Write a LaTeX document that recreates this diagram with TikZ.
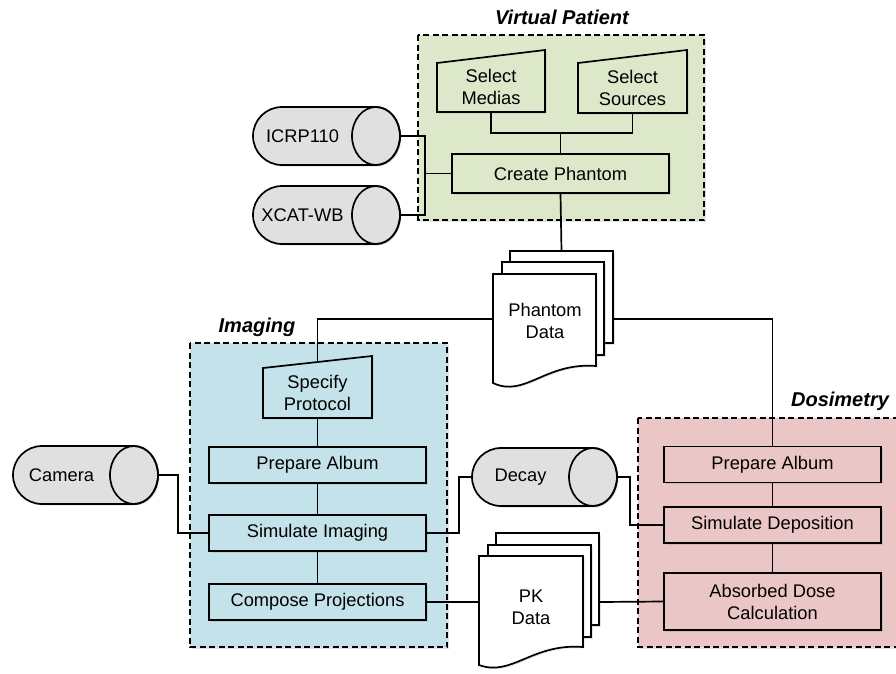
\documentclass[tikz,border=0pt]{standalone}
\usepackage{fontspec}
\setmainfont{Liberation Sans}
\usetikzlibrary{shadows,calc}
\definecolor{vpgreen}{RGB}{221,232,203}
\definecolor{imblue}{RGB}{196,226,233}
\definecolor{dospink}{RGB}{234,198,198}
\definecolor{cylgray}{RGB}{224,224,224}
\newcommand\mycyl[5]{%
  \draw[fill=cylgray, shd] (#3-24,#4-29) -- (#2+29,#4-29) arc[start angle=90,end angle=270,radius=29pt]
     -- (#3-24,#4+29) arc[start angle=-90,end angle=90,x radius=24pt,y radius=29pt] -- cycle;
  \draw (#3-24,#4) ellipse [x radius=24pt,y radius=29pt];
  \node[lbl] (#1) at ({(#2+#3)/2-24},#4) {#5};
  \coordinate (#1-r) at (#3,#4);
  \coordinate (#1-l) at (#2,#4);
}
\begin{document}
\begin{tikzpicture}[x=1pt,y=-1pt, line width=1.7pt,
  shd/.style={drop shadow={shadow xshift=1.5pt,shadow yshift=-1.5pt,opacity=0.22}},
  group/.style={draw, dash pattern=on 6pt off 3.5pt, shd},
  lbl/.style={font=\fontsize{18.3}{22}\selectfont, align=center, inner sep=0pt},
  proc/.style={lbl, draw, shd, minimum width=217pt, minimum height=36pt},
  trap/.style={lbl, minimum width=108pt, minimum height=50pt},
  title/.style={font=\fontsize{20}{24}\selectfont\bfseries\itshape, inner sep=0pt}]
\useasboundingbox (0,0) rectangle (896,673);
\clip (0,0) rectangle (896,673);

% groups
\draw[group, fill=vpgreen] (418,35) rectangle (704,220);
\node[title] (tvp) at (562,17) {Virtual Patient};
\draw[group, fill=imblue] (190,343) rectangle (447,647);
\node[title] (tim) at (257,327) {Imaging};
\draw[group, fill=dospink] (638,418) rectangle (905,647);
\node[title] (tdo) at (840,401) {Dosimetry};

% manual inputs
\draw[fill=vpgreen, shd] (437,112) -- (437,63) -- (545,50) -- (545,112) -- cycle;
\node[trap] (sm) at (491,87) {Select\\Medias};
\draw[fill=vpgreen, shd] (578,113) -- (578,63) -- (687,50) -- (687,113) -- cycle;
\node[trap] (ss) at (632.5,88) {Select\\Sources};
\draw[fill=imblue, shd] (263,418) -- (263,368) -- (372,356) -- (372,418) -- cycle;
\node[trap] (sp) at (317.5,393) {Specify\\Protocol};
\coordinate (sp-top) at (317.5,362);

% processes
\node[proc, fill=vpgreen, minimum height=39pt] (cp) at (560.5,173.5) {Create Phantom};
\node[proc, fill=imblue] (ipa) at (317.5,465) {Prepare Album};
\node[proc, fill=imblue] (si) at (317.5,533) {Simulate Imaging};
\node[proc, fill=imblue] (cpj) at (317.5,602) {Compose Projections};
\node[proc, fill=dospink] (dpa) at (772.5,464.5) {Prepare Album};
\node[proc, fill=dospink] (sd) at (772.5,525) {Simulate Deposition};
\node[proc, fill=dospink, minimum height=57pt] (ad) at (772.5,601.5) {Absorbed Dose\\Calculation};

% data stores
\mycyl{icrp}{253}{400}{136}{ICRP110}
\mycyl{xcat}{253}{400}{215}{XCAT-WB}
\mycyl{cam}{13}{158}{475}{Camera}
\mycyl{dec}{472}{617}{477}{Decay}

% documents
\draw[fill=white, shd] (510,251) rectangle (613,343);
\draw[fill=white, shd] (502,262) rectangle (604,355);
\draw[fill=white, shd] (493,274) -- (596,274) -- (596,366) .. controls (545,362) and (525,398) .. (493,383) -- cycle;
\node[lbl] (pd) at (545,321) {Phantom\\Data};
\coordinate (pd-top) at (561.5,251);
\coordinate (pd-l) at (493,319);
\coordinate (pd-r) at (613,319);

\draw[fill=white, shd] (496,533) rectangle (599,625);
\draw[fill=white, shd] (488,545) rectangle (591,637);
\draw[fill=white, shd] (479,556) -- (583,556) -- (583,647) .. controls (532,643) and (512,677) .. (479,665) -- cycle;
\node[lbl] (pk) at (531,607) {PK\\Data};
\coordinate (pk-l) at (479,602);
\coordinate (pk-r) at (599,602);

% connectors
\coordinate (bus) at (425,173.5);
\draw (icrp-r) -| (bus) -- (cp.west);
\draw (xcat-r) -| (bus);
\coordinate (jn) at (560.5,133);
\draw (sm.south) |- (jn) -| (ss.south);
\draw (jn) -- (cp.north);
\draw (cp.south) -- (pd-top);
\draw (pd-l) -| (sp-top);
\draw (pd-r) -| (dpa.north);
\draw (sp.south) -- (ipa.north);
\draw (ipa.south) -- (si.north);
\draw (si.south) -- (cpj.north);
\draw (cam-r) -- ++(20,0) |- (si.west);
\draw (si.east) -- ++(32,0) |- (dec-l);
\draw (dec-r) -- ++(13,0) |- (sd.west);
\draw (cpj.east) -- (pk-l);
\draw (pk-r) -- (ad.west);
\draw (dpa.south) -- (sd.north);
\draw (sd.south) -- (ad.north);
\end{tikzpicture}
\end{document}
